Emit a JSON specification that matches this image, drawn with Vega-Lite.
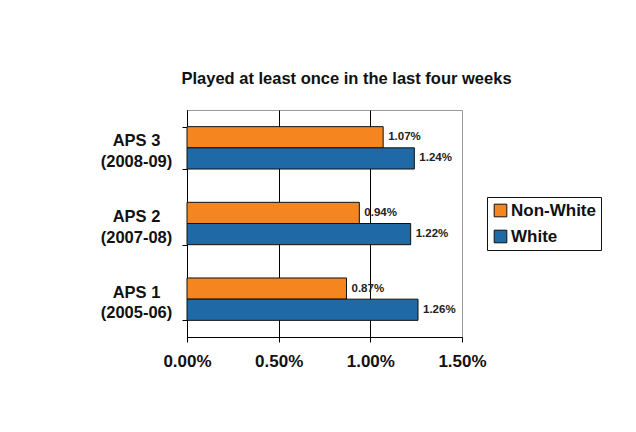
{
  "$schema": "https://vega.github.io/schema/vega-lite/v6.json",
  "width": 275,
  "height": 227,
  "padding": {"left": 100, "top": 70, "right": 10, "bottom": 10},
  "background": "white",
  "config": {
    "font": "Liberation Sans",
    "view": {"stroke": "#9a9a9a", "strokeWidth": 1}
  },
  "title": {
    "text": "Played at least once in the last four weeks",
    "font": "Liberation Sans",
    "fontSize": 16.5,
    "fontWeight": "bold",
    "color": "#111111",
    "anchor": "middle",
    "frame": "group",
    "dx": 22,
    "offset": 15
  },
  "data": {
    "values": [
      {"period": "APS 3 (2008-09)", "group": "Non-White", "value": 0.0107},
      {"period": "APS 3 (2008-09)", "group": "White", "value": 0.0124},
      {"period": "APS 2 (2007-08)", "group": "Non-White", "value": 0.0094},
      {"period": "APS 2 (2007-08)", "group": "White", "value": 0.0122},
      {"period": "APS 1 (2005-06)", "group": "Non-White", "value": 0.0087},
      {"period": "APS 1 (2005-06)", "group": "White", "value": 0.0126}
    ]
  },
  "encoding": {
    "y": {
      "field": "period",
      "type": "nominal",
      "sort": ["APS 3 (2008-09)", "APS 2 (2007-08)", "APS 1 (2005-06)"],
      "scale": {"paddingInner": 0.44, "paddingOuter": 0.22},
      "axis": {
        "title": null,
        "labelExpr": "[slice(datum.label, 0, 5), slice(datum.label, 6)]",
        "labelFont": "Liberation Sans",
        "labelFontWeight": "bold",
        "labelFontSize": 16.5,
        "labelColor": "#111111",
        "labelAlign": "center",
        "labelBaseline": "middle",
        "labelLineHeight": 20.5,
        "labelOffset": -7,
        "labelPadding": 46,
        "tickBand": "extent",
        "tickSize": 5,
        "tickColor": "#000000",
        "domainColor": "#000000",
        "grid": false
      }
    },
    "yOffset": {"field": "group", "type": "nominal", "sort": ["Non-White", "White"]},
    "x": {
      "field": "value",
      "type": "quantitative",
      "scale": {"domain": [0, 0.015], "nice": false},
      "axis": {
        "title": null,
        "format": ".2%",
        "values": [0, 0.005, 0.01, 0.015],
        "grid": true,
        "gridColor": {"condition": {"test": "datum.value >= 0.015", "value": "#9a9a9a"}, "value": "#000000"},
        "gridOpacity": 1,
        "labelFont": "Liberation Sans",
        "labelFontWeight": "bold",
        "labelFontSize": 17,
        "labelColor": "#111111",
        "labelPadding": 11,
        "labelFlush": false,
        "labelOverlap": false,
        "tickSize": 5,
        "tickColor": "#000000",
        "domainColor": "#000000"
      }
    }
  },
  "layer": [
    {
      "mark": {"type": "bar", "stroke": "#111111", "strokeWidth": 1},
      "encoding": {
        "color": {
          "field": "group",
          "type": "nominal",
          "sort": ["Non-White", "White"],
          "scale": {"domain": ["Non-White", "White"], "range": ["#F5861F", "#1F69A6"]},
          "legend": {
            "title": null,
            "orient": "none",
            "legendX": 300,
            "legendY": 87,
            "strokeColor": "#111111",
            "fillColor": "#ffffff",
            "padding": 5,
            "labelFont": "Liberation Sans",
            "labelFontSize": 17,
            "labelFontWeight": "bold",
            "labelColor": "#111111",
            "symbolType": "square",
            "symbolSize": 160,
            "symbolStrokeColor": "#111111",
            "symbolStrokeWidth": 1,
            "symbolOpacity": 1,
            "rowPadding": 8,
            "labelOffset": 2
          }
        }
      }
    },
    {
      "mark": {"type": "text", "align": "left", "baseline": "middle", "dx": 5, "fontSize": 11.5, "fontWeight": "bold", "color": "#222222", "font": "Liberation Sans"},
      "encoding": {
        "text": {"field": "value", "type": "quantitative", "format": ".2%"}
      }
    }
  ]
}
